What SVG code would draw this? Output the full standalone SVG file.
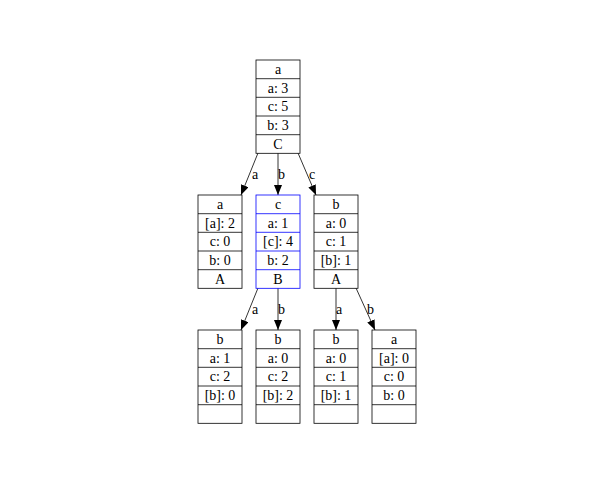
<svg xmlns="http://www.w3.org/2000/svg" width="600" height="480" viewBox="0 0 600 480">
<style>
.box{fill:#fff;stroke:#000;stroke-width:0.8}
.blue{stroke:#0000ff}
.t{font-family:"Liberation Serif","Times New Roman",serif;font-size:14px;fill:#000;text-anchor:middle}
.e{stroke:#000;stroke-width:0.8;fill:none;marker-end:url(#ah)}
.l{font-family:"Liberation Serif","Times New Roman",serif;font-size:14px;fill:#000}
</style>
<defs>
<marker id="ah" viewBox="0 0 10 8" refX="10" refY="4" markerWidth="10" markerHeight="8" markerUnits="userSpaceOnUse" orient="auto">
<path d="M0,0 L10,4 L0,8 z" fill="#000"/>
</marker>
</defs>
<rect width="600" height="480" fill="#fff"/>
<g id="connectors">
<line class="e" x1="258" y1="153" x2="241" y2="195"/>
<line class="e" x1="278" y1="153" x2="278" y2="195"/>
<line class="e" x1="298" y1="153" x2="316" y2="195"/>
<line class="e" x1="258" y1="288" x2="241" y2="330"/>
<line class="e" x1="278" y1="288" x2="278" y2="330"/>
<line class="e" x1="336" y1="288" x2="336" y2="330"/>
<line class="e" x1="356" y1="288" x2="375" y2="330"/>
<text class="l" x="252" y="179">a</text>
<text class="l" x="278" y="179">b</text>
<text class="l" x="309" y="179">c</text>
<text class="l" x="252" y="314">a</text>
<text class="l" x="278" y="314">b</text>
<text class="l" x="336" y="314">a</text>
<text class="l" x="367" y="314">b</text>
</g>
<g id="n0">
<rect class="box" x="256" y="60" width="44" height="93.3"/>
<line class="box" x1="256" y1="78.7" x2="300" y2="78.7"/>
<line class="box" x1="256" y1="97.3" x2="300" y2="97.3"/>
<line class="box" x1="256" y1="116" x2="300" y2="116"/>
<line class="box" x1="256" y1="134.7" x2="300" y2="134.7"/>
<text class="t" x="278" y="74">a</text>
<text class="t" x="278" y="92.7">a: 3</text>
<text class="t" x="278" y="111.3">c: 5</text>
<text class="t" x="278" y="130">b: 3</text>
<text class="t" x="278" y="148.7">C</text>
</g>
<g id="n1">
<rect class="box" x="198" y="195" width="44" height="93.3"/>
<line class="box" x1="198" y1="213.7" x2="242" y2="213.7"/>
<line class="box" x1="198" y1="232.3" x2="242" y2="232.3"/>
<line class="box" x1="198" y1="251" x2="242" y2="251"/>
<line class="box" x1="198" y1="269.7" x2="242" y2="269.7"/>
<text class="t" x="220" y="209">a</text>
<text class="t" x="220" y="227.7">[a]: 2</text>
<text class="t" x="220" y="246.3">c: 0</text>
<text class="t" x="220" y="265">b: 0</text>
<text class="t" x="220" y="283.7">A</text>
</g>
<g id="n2">
<rect class="box blue" x="256" y="195" width="44" height="93.3"/>
<line class="box blue" x1="256" y1="213.7" x2="300" y2="213.7"/>
<line class="box blue" x1="256" y1="232.3" x2="300" y2="232.3"/>
<line class="box blue" x1="256" y1="251" x2="300" y2="251"/>
<line class="box blue" x1="256" y1="269.7" x2="300" y2="269.7"/>
<text class="t" x="278" y="209">c</text>
<text class="t" x="278" y="227.7">a: 1</text>
<text class="t" x="278" y="246.3">[c]: 4</text>
<text class="t" x="278" y="265">b: 2</text>
<text class="t" x="278" y="283.7">B</text>
</g>
<g id="n3">
<rect class="box" x="314" y="195" width="44" height="93.3"/>
<line class="box" x1="314" y1="213.7" x2="358" y2="213.7"/>
<line class="box" x1="314" y1="232.3" x2="358" y2="232.3"/>
<line class="box" x1="314" y1="251" x2="358" y2="251"/>
<line class="box" x1="314" y1="269.7" x2="358" y2="269.7"/>
<text class="t" x="336" y="209">b</text>
<text class="t" x="336" y="227.7">a: 0</text>
<text class="t" x="336" y="246.3">c: 1</text>
<text class="t" x="336" y="265">[b]: 1</text>
<text class="t" x="336" y="283.7">A</text>
</g>
<g id="n4">
<rect class="box" x="198" y="330" width="44" height="93.3"/>
<line class="box" x1="198" y1="348.7" x2="242" y2="348.7"/>
<line class="box" x1="198" y1="367.3" x2="242" y2="367.3"/>
<line class="box" x1="198" y1="386" x2="242" y2="386"/>
<line class="box" x1="198" y1="404.7" x2="242" y2="404.7"/>
<text class="t" x="220" y="344">b</text>
<text class="t" x="220" y="362.7">a: 1</text>
<text class="t" x="220" y="381.3">c: 2</text>
<text class="t" x="220" y="400">[b]: 0</text>
</g>
<g id="n5">
<rect class="box" x="256" y="330" width="44" height="93.3"/>
<line class="box" x1="256" y1="348.7" x2="300" y2="348.7"/>
<line class="box" x1="256" y1="367.3" x2="300" y2="367.3"/>
<line class="box" x1="256" y1="386" x2="300" y2="386"/>
<line class="box" x1="256" y1="404.7" x2="300" y2="404.7"/>
<text class="t" x="278" y="344">b</text>
<text class="t" x="278" y="362.7">a: 0</text>
<text class="t" x="278" y="381.3">c: 2</text>
<text class="t" x="278" y="400">[b]: 2</text>
</g>
<g id="n6">
<rect class="box" x="314" y="330" width="44" height="93.3"/>
<line class="box" x1="314" y1="348.7" x2="358" y2="348.7"/>
<line class="box" x1="314" y1="367.3" x2="358" y2="367.3"/>
<line class="box" x1="314" y1="386" x2="358" y2="386"/>
<line class="box" x1="314" y1="404.7" x2="358" y2="404.7"/>
<text class="t" x="336" y="344">b</text>
<text class="t" x="336" y="362.7">a: 0</text>
<text class="t" x="336" y="381.3">c: 1</text>
<text class="t" x="336" y="400">[b]: 1</text>
</g>
<g id="n7">
<rect class="box" x="372" y="330" width="44" height="93.3"/>
<line class="box" x1="372" y1="348.7" x2="416" y2="348.7"/>
<line class="box" x1="372" y1="367.3" x2="416" y2="367.3"/>
<line class="box" x1="372" y1="386" x2="416" y2="386"/>
<line class="box" x1="372" y1="404.7" x2="416" y2="404.7"/>
<text class="t" x="394" y="344">a</text>
<text class="t" x="394" y="362.7">[a]: 0</text>
<text class="t" x="394" y="381.3">c: 0</text>
<text class="t" x="394" y="400">b: 0</text>
</g>
</svg>
